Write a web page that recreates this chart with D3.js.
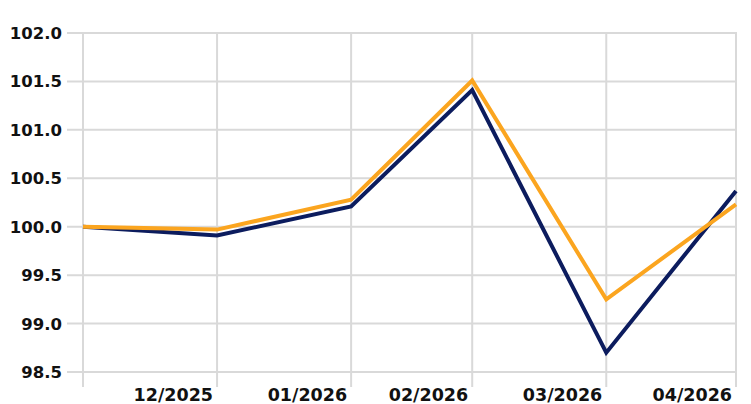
<!DOCTYPE html>
<html><head><meta charset="utf-8">
<script src="https://cdn.jsdelivr.net/npm/d3@7"></script>
<style>body{margin:0;background:#fff}svg{display:block}</style>
</head><body>
<script>
const dates = ["2025-12-01","2026-01-01","2026-02-01","2026-03-01","2026-04-01","2026-05-01"];
const seriesNavy = [100.0, 99.91, 100.21, 101.41, 98.70, 100.37];
const seriesOrange = [100.0, 99.97, 100.28, 101.51, 99.25, 100.23];
const yTicks = [98.5, 99.0, 99.5, 100.0, 100.5, 101.0, 101.5, 102.0];
const xTickLabels = ["", "12/2025", "01/2026", "02/2026", "03/2026", "04/2026"];

const W = 751, H = 404;
const parse = d3.timeParse("%Y-%m-%d");
const xd = dates.map(parse);
const svg = d3.select("body").append("svg").attr("width", W).attr("height", H);
const x = d3.scaleTime().domain([xd[0], xd[xd.length-1]]).range([83, 736]);
const y = d3.scaleLinear().domain([98.5, 102.0]).range([372, 33]);
const grid = "#d9d9d9";
const font = "'DejaVu Sans', Verdana, sans-serif";

// horizontal grid
svg.append("g").selectAll("line").data(yTicks).join("line")
  .attr("x1", 67).attr("x2", 737)
  .attr("y1", d => y(d)).attr("y2", d => y(d))
  .attr("stroke", grid).attr("stroke-width", 2);
// vertical grid
svg.append("g").selectAll("line").data(xd).join("line")
  .attr("x1", d => x(d)).attr("x2", d => x(d))
  .attr("y1", 32).attr("y2", 387)
  .attr("stroke", grid).attr("stroke-width", 2);

// y labels
svg.append("g").selectAll("text").data(yTicks).join("text")
  .attr("x", 62).attr("y", d => y(d)).attr("dy", "0.36em")
  .attr("text-anchor", "end").attr("font-family", font)
  .attr("font-weight", "bold").attr("font-size", 16.5).attr("fill", "#111")
  .text(d => d.toFixed(1));
// x labels
svg.append("g").selectAll("text").data(xd).join("text")
  .attr("x", d => x(d) - 4).attr("y", 401)
  .attr("text-anchor", "end").attr("font-family", font)
  .attr("font-weight", "bold").attr("font-size", 17.5).attr("fill", "#111")
  .text((d, i) => xTickLabels[i]);

const line = d3.line().x((d, i) => x(xd[i])).y(d => y(d));
svg.append("path").datum(seriesNavy).attr("d", line)
  .attr("fill", "none").attr("stroke", "#0c1c5e").attr("stroke-width", 4)
  .attr("stroke-linejoin", "miter");
svg.append("path").datum(seriesOrange).attr("d", line)
  .attr("fill", "none").attr("stroke", "#fba51f").attr("stroke-width", 4)
  .attr("stroke-linejoin", "miter");
</script>
</body></html>
